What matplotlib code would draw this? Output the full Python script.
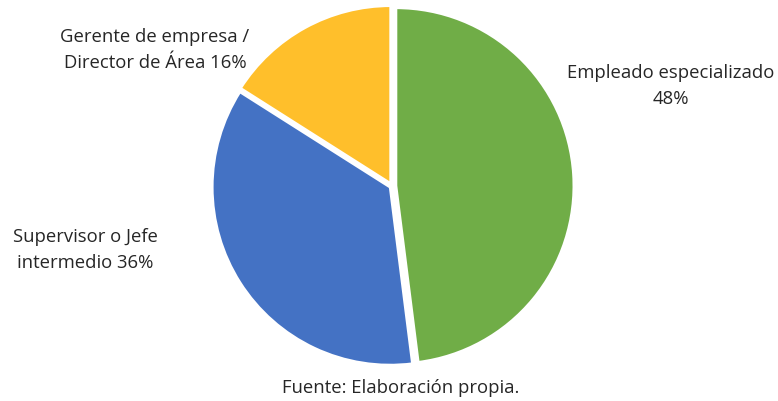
import matplotlib
matplotlib.use("Agg")
import matplotlib.pyplot as plt

categories = ["Empleado especializado", "Supervisor o Jefe\nintermedio", "Gerente de empresa /\nDirector de Área"]
values = [48, 36, 16]
colors = ["#70AD47", "#4472C4", "#FFBF2B"]
explode_frac = [0.022, 0.012, 0.015]

W, H = 778, 402
fig = plt.figure(figsize=(W / 100, H / 100), dpi=100)
ax = fig.add_axes([0, 0, 1, 1])

cx, cy, r = 392, H - 187, 178
ax.pie(values, colors=colors, startangle=90, counterclock=False,
       explode=[e * r for e in explode_frac], center=(cx, cy), radius=r, frame=True,
       wedgeprops=dict(edgecolor="white", linewidth=2))
ax.set_xlim(0, W)
ax.set_ylim(0, H)
ax.set_aspect("equal")
ax.axis("off")

font = dict(family=["Open Sans", "DejaVu Sans"], fontsize=13.3, color="#262626")
ax.text(671, H - 86, f"Empleado especializado\n{values[0]}%", ha="center", va="center",
        linespacing=1.55, **font)
ax.text(85, H - 250, f"Supervisor o Jefe\nintermedio {values[1]}%", ha="center", va="center",
        linespacing=1.55, **font)
ax.text(155, H - 50, f"Gerente de empresa /\nDirector de Área {values[2]}%", ha="center", va="center",
        linespacing=1.55, **font)
ax.text(401, H - 388, "Fuente: Elaboración propia.", ha="center", va="center", **font)

fig.savefig("out.png", dpi=100)
